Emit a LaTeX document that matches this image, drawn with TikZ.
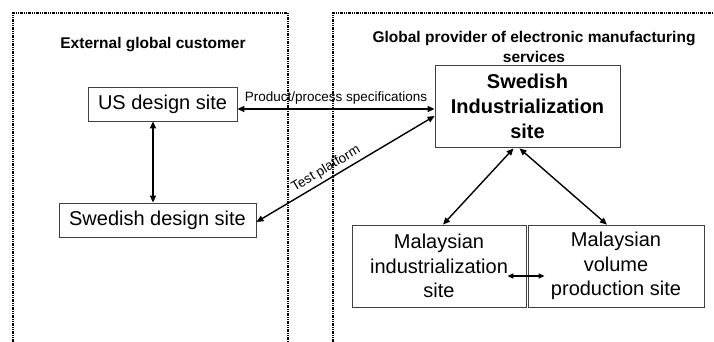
\documentclass[tikz,border=0pt]{standalone}
\usepackage{fontspec}
\setmainfont{Liberation Sans}
\usetikzlibrary{arrows.meta,calc}
\begin{document}
\begin{tikzpicture}[x=1pt,y=-1pt,
  region/.style={line width=1.2pt,dash pattern=on 3pt off 1pt on 1pt off 1pt on 1pt off 1pt},
  site/.style={draw=black!75,line width=0.8pt,inner sep=0pt,align=center,font=\fontsize{20}{24.5}\selectfont},
  title/.style={font=\bfseries\fontsize{15.5}{19.5}\selectfont,align=center,inner sep=0pt},
  lbl/.style={font=\fontsize{13.5}{16}\selectfont,inner sep=1pt},
  link/.style={line width=1.4pt,{Triangle[length=7pt,width=6pt]}-{Triangle[length=7pt,width=6pt]}}]
\useasboundingbox (0,0) rectangle (714,342);
\draw[region] (13,350) -- (13,13) -- (288,13) -- (288,350);
\draw[region] (333,350) -- (333,13) -- (720,13);
\node[title] (t1) at (153,45) {External global customer};
\node[title] (t2) at (534,47) {Global provider of electronic manufacturing\\services};
\node[site,minimum width=149pt,minimum height=34pt] (us) at (162.5,104) {US design site};
\node[site,minimum width=197pt,minimum height=34pt] (sd) at (157.5,220) {Swedish design site};
\node[site,font=\bfseries\fontsize{20}{25}\selectfont,minimum width=185pt,minimum height=82pt] (si) at (527.5,106) {Swedish\\Industrialization\\site};
\node[site,minimum width=174pt,minimum height=82pt] (mi) at (439,266) {Malaysian\\industrialization\\site};
\node[site,minimum width=176pt,minimum height=82pt] (mv) at (616,266) {Malaysian\\volume\\production site};
\coordinate (usr) at ($(us.east)+(0,5)$);
\draw[link] (usr) -- (si.west |- usr) node[lbl,midway,above=3pt] (l1) {Product/process specifications};
\draw[link] ($(sd.east)+(0,2)$) -- ($(si.west)+(0,10)$) node[lbl,pos=0.42,sloped,above=2pt] (l2) {Test platform};
\draw[link] (us.south -| 153,0) -- (sd.north -| 153,0);
\coordinate (s1) at ($(si.south)+(-14,1)$);
\coordinate (s2) at ($(si.south)+(-8,1)$);
\draw[link] (s1) -- ($(mi.north)+(4,0)$);
\draw[link] (s2) -- ($(mv.north)+(-9,0)$);
\coordinate (h1) at ($(mi.east)+(-19,10)$);
\coordinate (h2) at ($(mv.west)+(17,10)$);
\draw[link,{Triangle[length=6pt,width=5pt]}-{Triangle[length=6pt,width=5pt]}] (h1) -- (h2);
\end{tikzpicture}
\end{document}
